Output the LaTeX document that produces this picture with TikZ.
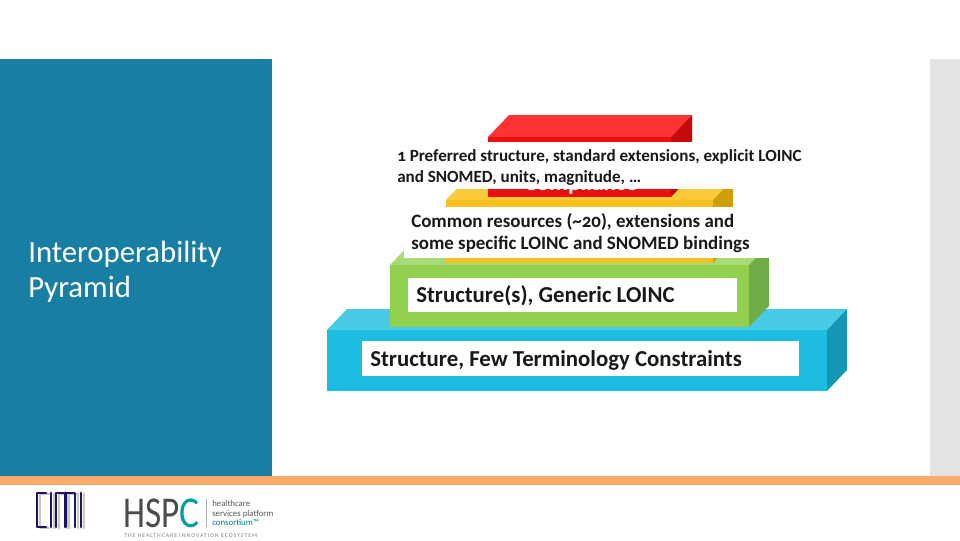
\documentclass[tikz,border=0pt]{standalone}
\usepackage{fontspec}
\setmainfont[Numbers=OldStyle]{Carlito}
\newfontfamily\logofont{Carlito}
\definecolor{panel}{HTML}{187EA3}
\definecolor{stripe}{HTML}{F9AB6B}
\definecolor{sidebar}{HTML}{E3E3E3}
\definecolor{cimi}{HTML}{1B1464}
\definecolor{redF}{HTML}{E81010}\definecolor{redT}{HTML}{FF3333}\definecolor{redS}{HTML}{C40A0A}
\definecolor{golF}{HTML}{F6BF20}\definecolor{golT}{HTML}{FBCB3C}\definecolor{golS}{HTML}{CF9E0C}
\definecolor{grnF}{HTML}{92D050}\definecolor{grnT}{HTML}{A8DB78}\definecolor{grnS}{HTML}{70AD47}
\definecolor{bluF}{HTML}{1CBDE0}\definecolor{bluT}{HTML}{48CBE6}\definecolor{bluS}{HTML}{1497B5}
\tikzset{
  x=0.75pt,y=-0.75pt,
  labeltext/.style={anchor=west,inner sep=0pt,align=left,text=black!90},
  logostroke/.style={line width=2.2pt,line cap=round,line join=round},
}
% #1 left, #2 right, #3 top, #4 bottom, #5 depth, #6 colour prefix
\newcommand{\slab}[6]{%
  \fill[#6T] (#1,#3) -- (#1+#5,#3-#5-1) -- (#2+#5,#3-#5-1) -- (#2,#3) -- cycle;
  \fill[#6S] (#2,#3) -- (#2+#5,#3-#5-1) -- (#2+#5,#4-#5-1) -- (#2,#4) -- cycle;
  \fill[#6F] (#1,#3) rectangle (#2,#4);
}
\newcommand{\cimimark}{%
 \draw (46,493) -- (37,493) -- (37,527) -- (46,527);
 \draw (51,493) -- (51,527);
 \draw (56,527) -- (56,493) -- (75,493) -- (75,527) (65.5,493) -- (65.5,527);
 \draw (81,493) -- (81,527);
}
\begin{document}
\begin{tikzpicture}
\useasboundingbox (0,0) rectangle (960,540);
\fill[white] (0,0) rectangle (960,540);
\fill[panel] (0,59) rectangle (272,476);
\fill[sidebar] (930,59) rectangle (960,476);
\fill[stripe] (0,476) rectangle (960,485);
\node[anchor=west,inner sep=0pt,align=left,text=white,font=\fontsize{23.1}{26.3}\selectfont] (title) at (28,271.5) {Interoperability\\Pyramid};
% slabs
\slab{327}{827}{330}{391}{20}{blu}
\slab{390}{749}{265}{327}{20}{grn}
\slab{446}{713}{200}{263}{20}{gol}
\slab{488}{671}{137}{197}{21}{red}
% mostly hidden level label
\node[anchor=base,inner sep=0pt,text=white,font=\fontsize{17.5}{20}\selectfont\bfseries] (lvl) at (581,190.5) {Compliance};
% label boxes
\fill[white] (397,142) rectangle (800,189);
\fill[white] (404,207) rectangle (775,258);
\fill[white] (408,278) rectangle (737,312);
\fill[white] (362,341) rectangle (799,376);
\node[labeltext,font=\fontsize{12.8}{16}\selectfont\bfseries] (t1) at (397,167.5) {1 Preferred structure, standard extensions, explicit LOINC\\and SNOMED, units, magnitude, …};
\node[labeltext,font=\fontsize{14.2}{16.5}\selectfont\bfseries] (t2) at (411,233.5) {Common resources (\textasciitilde 20), extensions and\\some specific LOINC and SNOMED bindings};
\node[labeltext,font=\fontsize{17.1}{20}\selectfont\bfseries] (t3) at (416,296) {Structure(s), Generic LOINC};
\node[labeltext,font=\fontsize{17.1}{20}\selectfont\bfseries] (t4) at (370,360) {Structure, Few Terminology Constraints};
% CIMI logo
\begin{scope}[logostroke,color=black!22,shift={(3,1)}]
 \cimimark
\end{scope}
\begin{scope}[logostroke,color=cimi]
 \cimimark
\end{scope}
% HSPC logo
\node[anchor=west,inner sep=0pt,xscale=.8,font=\logofont\fontsize{33}{33}\selectfont,text=black!70] (hsp) at (123,513) {HSP};
\node[anchor=west,inner sep=0pt,xscale=.85,font=\logofont\fontsize{33}{33}\selectfont,text=teal!75!cyan] (c) at (179,513) {C};
\draw[black!30,line width=.4pt] (206,499) -- (206,527);
\node[anchor=west,inner sep=0pt,align=left,font=\logofont\fontsize{6.6}{7}\selectfont,text=black!65] (tag) at (212,513) {healthcare\\services platform\\\textcolor{teal}{consortium™}};
\node[anchor=west,inner sep=0pt,font=\logofont\fontsize{4.4}{5}\selectfont\addfontfeatures{LetterSpace=16},text=black!50] (eco) at (124,536) {THE HEALTHCARE INNOVATION ECOSYSTEM};
\end{tikzpicture}
\end{document}
